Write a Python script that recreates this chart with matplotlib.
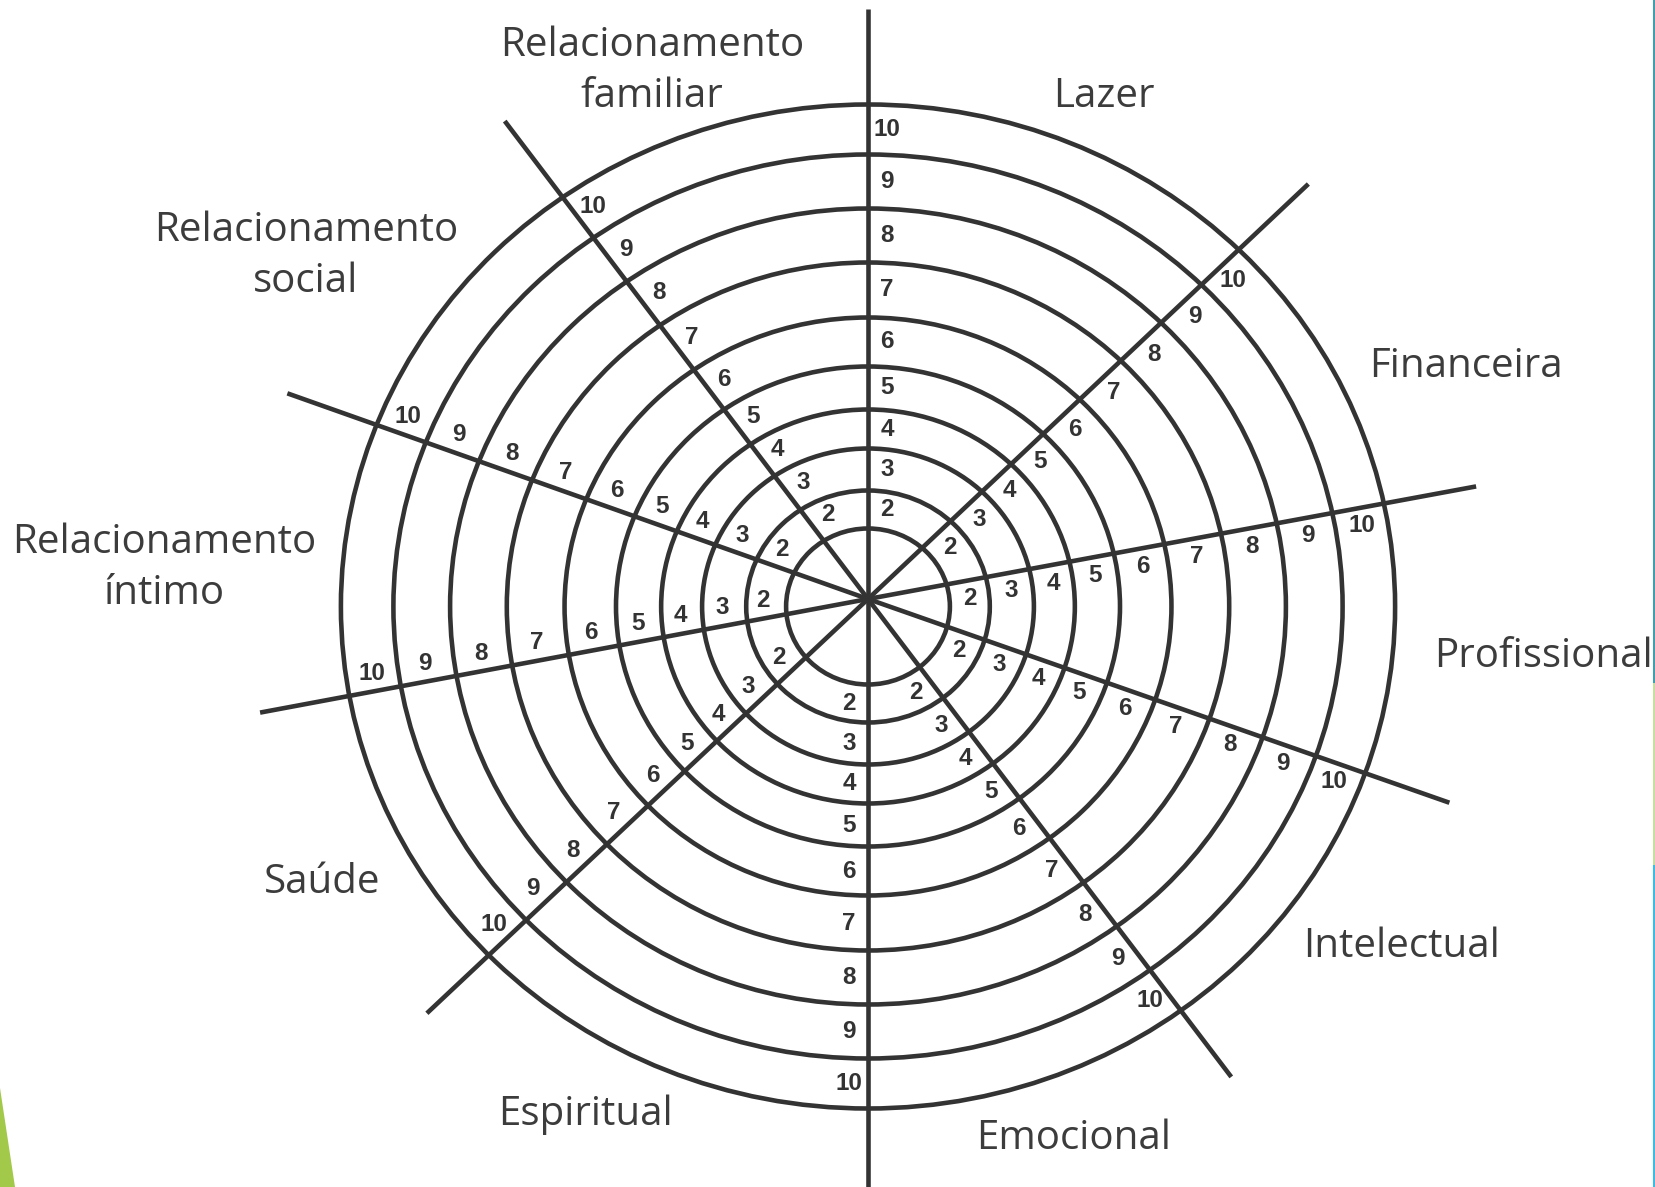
import matplotlib
matplotlib.use("Agg")
import numpy as np
import matplotlib.pyplot as plt
import matplotlib.patches as mpatches

# dados da roda da vida
categorias = ["Relacionamento\nfamiliar", "Lazer", "Financeira", "Profissional",
              "Intelectual", "Emocional", "Espiritual", "Saúde",
              "Relacionamento\níntimo", "Relacionamento\nsocial"]
niveis = list(range(1, 11))
raios = [78, 116, 158, 197, 240, 289, 344, 398, 452, 502]
angulos_raio = [90, 44.7, 11.0, -20.2, -54.1, -90, -135.4, -168.9, 159.6, 125.9]
rotulos_nivel = [str(n) for n in niveis[1:]]

# posicoes dos nomes (pixels da imagem)
pos_cat = [(652, 71), (1104, 97), (1466, 367), (1434, 657), (1402, 947),
           (1074, 1139), (586, 1115), (322, 883), (164, 568), (306, 256)]

W, H = 1656, 1187
cx, cy = 868, 599
sx = 1.05  # esticamento horizontal
centro_aneis = (0, -7.5)
cor = "#333333"

fig = plt.figure(figsize=(W / 100, H / 100), dpi=100)
ax = fig.add_axes([0, 0, 1, 1])
ax.set_xlim(-cx / sx, (W - cx) / sx)
ax.set_ylim(-(H - cy), cy)
ax.axis("off")


def px(X, Y):
    return (X - cx) / sx, cy - Y


def dist_anel(u, r):
    # distancia ao longo do raio ate o anel de raio r
    uc = u[0] * centro_aneis[0] + u[1] * centro_aneis[1]
    c2 = centro_aneis[0] ** 2 + centro_aneis[1] ** 2
    return uc + np.sqrt(uc ** 2 - c2 + r ** 2)


# circulos
for r in raios:
    ax.add_patch(mpatches.Circle(centro_aneis, r, fill=False, ec=cor, lw=3.3, zorder=2))

# raios
L = 590
for a in angulos_raio:
    t = np.radians(a)
    ax.plot([0, L * np.cos(t)], [0, L * np.sin(t)], color=cor, lw=3.3,
            solid_capstyle="butt", zorder=3)

# numeros em cada faixa
d = 18
for a in angulos_raio:
    t = np.radians(a)
    u = (np.cos(t), np.sin(t))
    for i, lab in enumerate(rotulos_nivel):
        rm = (dist_anel(u, raios[i]) + dist_anel(u, raios[i + 1])) / 2
        x = rm * u[0] + d * np.sin(t)
        y = rm * u[1] - d * np.cos(t)
        ax.text(x, y, lab, ha="center", va="center", fontsize=17.5,
                fontweight="bold", family="Liberation Sans", color=cor, zorder=4)

# nomes das areas
for nome, (X, Y) in zip(categorias, pos_cat):
    x, y = px(X, Y)
    ha = "left" if nome == "Profissional" else "center"
    ax.text(x, y, nome, ha=ha, va="center", multialignment="center",
            fontsize=29, family="Open Sans", color="#3c3c3c",
            linespacing=1.33, zorder=4)

# detalhes do slide
x0, _ = px(1652.5, 0)
x1, _ = px(W + 2, 0)
faixas = [(0, 683, "#3e9fae"), (683, 865, "#c9dd9c"), (865, H, "#38bde6")]
for ya, yb, c in faixas:
    _, ytop = px(0, ya)
    _, ybot = px(0, yb)
    ax.add_patch(mpatches.Rectangle((x0, ybot), x1 - x0, ytop - ybot,
                                    color=c, lw=0, zorder=6))
tri = [px(0, 1088), px(15, H), px(0, H)]
ax.add_patch(mpatches.Polygon(tri, closed=True, color="#a3c94a", lw=0, zorder=6))

fig.savefig("out.png", dpi=100, facecolor="white")
